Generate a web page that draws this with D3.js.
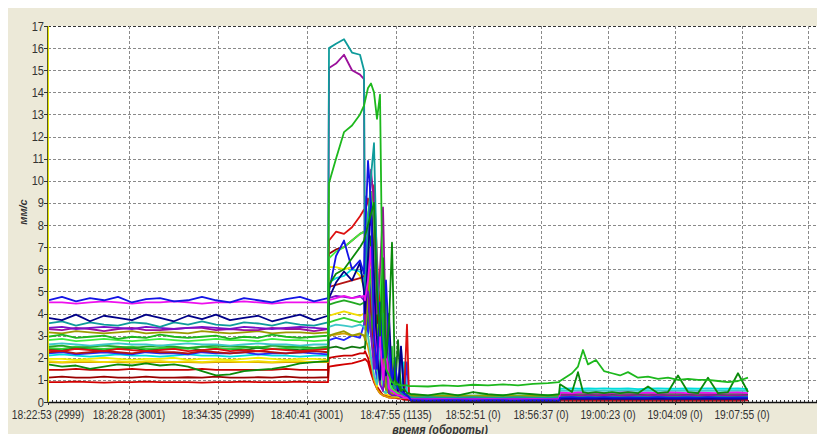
<!DOCTYPE html>
<meta charset="utf-8">
<style>
    body { margin: 0; background: #fff; }
    text { font-family: "Liberation Sans", Arial, sans-serif; fill: #333; }
    .grid line { stroke: #8a8a8a; stroke-dasharray: 3,2; stroke-width: 1; }
    .series path { fill: none; stroke-width: 1.8; stroke-linejoin: round; }
</style>
<svg width="817" height="434"></svg>
<script src="https://d3js.org/d3.v7.min.js"></script>
<script>

    // sample index along the x axis (the axis is by sample, not by clock time)
    var sampleIdx = [0,14,28,42,56,70,84,98,112,126,140,154,168,182,196,210,224,238,252,266,280,
        281,288,296,304,312,316,317,320,323,326,329,332,335,338,341,344,347,350,353,356,359,361,363,
        366,380,395,410,425,440,455,470,485,500,511,
        512,524,530,535,540,548,556,564,572,580,590,600,610,620,630,640,650,660,670,680,690,700];

    var tickIdx = [0, 81, 170, 259, 348, 425, 493, 560, 627, 694];
    var tickLabels = ["18:22:53 (2999)", "18:28:28 (3001)", "18:34:35 (2999)", "18:40:41 (3001)",
        "18:47:55 (1135)", "18:52:51 (0)", "18:56:37 (0)", "19:00:23 (0)", "19:04:09 (0)", "19:07:55 (0)"];
    var yTicks = [0,1,2,3,4,5,6,7,8,9,10,11,12,13,14,15,16,17];

    var teal = [3.55,3.65,3.45,3.6,3.5,3.45,3.6,3.55,3.4,3.6,3.5,3.65,3.5,3.45,3.6,3.55,3.45,3.6,3.5,3.45,3.6,
        16.0,16.2,16.4,15.8,15.7,15.0,4.5,8.0,10.2,11.7,6.0,2.5,4.0,1.5,2.2,0.9,0.6,0.8,0.4,0.3,0.3,0.25,0.22,
        0.2,0.22,0.2,0.2,0.22,0.2,0.2,0.22,0.2,0.2,0.22,
        0.22,0.24,0.22,0.22,0.24,0.22,0.22,0.24,0.22,0.22,0.24,0.22,0.24,0.22,0.22,0.24,0.22,0.22,0.24,0.22,0.22,0.24];
    var purple = [3.3,3.25,3.35,3.3,3.2,3.3,3.35,3.25,3.25,3.3,3.35,3.35,3.25,3.3,3.25,3.25,3.35,3.3,3.3,3.2,3.3,
        15.1,15.3,15.7,15.0,14.8,14.6,3.5,6.5,10.5,9.0,4.0,6.0,8.8,3.0,1.5,0.9,0.6,0.5,0.4,0.3,0.25,0.2,0.16,
        0.15,0.14,0.15,0.16,0.15,0.14,0.15,0.15,0.14,0.15,0.16,
        0.3,0.32,0.3,0.3,0.31,0.3,0.32,0.3,0.3,0.31,0.3,0.3,0.32,0.3,0.3,0.31,0.3,0.32,0.3,0.3,0.31,0.3];
    var green = [2.95,3.05,2.9,2.95,3.0,2.85,2.95,2.9,3.05,2.95,2.9,2.95,3.0,2.85,2.95,2.9,3.05,2.95,2.9,2.95,3.0,
        9.9,11.0,12.2,12.5,13.0,13.4,13.6,14.2,14.4,14.0,12.8,13.9,3.0,1.5,1.2,0.9,0.8,0.8,0.75,0.75,0.75,0.72,0.72,
        0.72,0.7,0.75,0.72,0.78,0.75,0.8,0.75,0.82,0.85,0.9,
        0.95,1.3,1.6,2.35,1.7,1.9,1.4,1.3,1.2,1.35,1.1,1.15,1.05,1.1,1.0,1.05,1.0,1.0,0.95,0.9,0.95,1.1];
    var red = [2.35,2.3,2.4,2.35,2.3,2.4,2.35,2.3,2.35,2.4,2.3,2.35,2.4,2.3,2.35,2.3,2.4,2.35,2.3,2.35,2.4,
        7.3,7.7,7.6,7.9,8.4,8.7,8.6,9.2,8.0,9.8,6.5,4.0,5.5,2.5,1.5,1.0,0.6,0.4,0.3,0.3,3.5,0.3,0.12,
        0.12,0.1,0.12,0.1,0.12,0.1,0.12,0.1,0.12,0.1,0.12,
        0.12,0.1,0.12,0.1,0.12,0.1,0.12,0.1,0.12,0.1,0.12,0.1,0.12,0.1,0.12,0.1,0.12,0.1,0.12,0.1,0.12,0.1];
    var darkRed = [1.1,1.15,1.1,1.1,1.15,1.1,1.1,1.15,1.1,1.1,1.12,1.1,1.15,1.1,1.1,1.12,1.1,1.15,1.1,1.1,1.12,
        6.7,6.9,7.0,7.3,7.6,7.7,7.6,8.3,9.5,7.0,3.5,5.0,2.0,1.2,0.8,0.5,0.4,0.3,0.3,0.2,0.2,0.15,0.1,
        0.1,0.09,0.1,0.1,0.09,0.1,0.1,0.09,0.1,0.1,0.09,
        0.1,0.09,0.1,0.1,0.09,0.1,0.1,0.09,0.1,0.1,0.09,0.1,0.09,0.1,0.1,0.09,0.1,0.1,0.09,0.1,0.1,0.09];
    var blue = [4.6,4.75,4.55,4.7,4.6,4.75,4.5,4.65,4.7,4.55,4.6,4.75,4.6,4.5,4.7,4.6,4.5,4.65,4.75,4.55,4.7,
        5.0,6.6,7.3,6.0,6.4,5.8,7.4,10.9,9.0,3.0,1.5,4.5,2.0,5.5,2.6,1.0,1.8,0.6,0.5,0.4,0.3,0.2,0.08,
        0.08,0.07,0.08,0.08,0.07,0.08,0.08,0.07,0.08,0.08,0.07,
        0.2,0.22,0.2,0.2,0.21,0.2,0.22,0.2,0.2,0.21,0.2,0.2,0.22,0.2,0.2,0.21,0.2,0.22,0.2,0.2,0.21,0.2];
    var navy = [3.8,3.7,3.95,3.65,3.9,3.8,3.7,3.95,3.8,3.65,3.9,3.75,3.95,3.7,3.8,3.9,3.65,3.8,3.95,3.7,3.9,
        4.7,5.4,5.9,5.5,6.3,5.0,4.0,6.5,9.0,5.5,2.0,1.0,3.0,1.2,4.0,0.8,1.6,0.5,2.5,0.4,0.3,0.2,0.05,
        0.05,0.05,0.06,0.05,0.05,0.06,0.05,0.05,0.06,0.05,0.05,
        0.14,0.15,0.14,0.15,0.14,0.15,0.14,0.15,0.14,0.15,0.14,0.15,0.14,0.15,0.14,0.15,0.14,0.15,0.14,0.15,0.14,0.15];
    var magenta = [4.5,4.5,4.45,4.5,4.55,4.5,4.45,4.5,4.5,4.55,4.5,4.45,4.5,4.5,4.55,4.5,4.45,4.5,4.5,4.5,4.5,
        4.6,4.7,4.8,4.7,4.75,4.8,4.6,5.5,7.0,3.5,1.8,3.0,1.0,2.5,0.6,0.5,0.4,0.3,0.3,0.2,0.2,0.15,0.12,
        0.12,0.12,0.13,0.12,0.12,0.13,0.12,0.12,0.13,0.12,0.12,
        0.42,0.4,0.43,0.42,0.4,0.42,0.41,0.4,0.42,0.43,0.4,0.42,0.4,0.43,0.42,0.4,0.42,0.41,0.4,0.42,0.43,0.4];
    var yellow = [1.95,1.95,1.9,1.95,2.0,1.95,1.9,1.95,1.95,2.0,1.9,1.95,1.95,1.9,1.95,2.0,1.95,1.9,1.95,1.95,1.9,
        6.1,6.1,6.0,6.1,5.7,5.2,5.0,4.0,5.5,2.0,3.5,1.0,0.6,1.5,0.4,0.3,0.3,0.25,0.2,0.2,0.2,0.2,0.2,
        0.2,0.19,0.2,0.2,0.19,0.2,0.2,0.19,0.2,0.2,0.19,
        0.2,0.19,0.2,0.2,0.19,0.2,0.2,0.19,0.2,0.2,0.19,0.2,0.19,0.2,0.2,0.19,0.2,0.2,0.19,0.2,0.2,0.19];
    var cyan = [2.1,2.15,2.1,2.05,2.1,2.15,2.1,2.1,2.05,2.1,2.15,2.1,2.1,2.05,2.1,2.15,2.1,2.1,2.05,2.1,2.1,
        5.4,5.6,5.7,6.0,5.9,5.6,5.5,6.5,4.0,2.0,3.0,1.0,4.5,0.6,0.5,1.5,0.4,0.3,0.3,1.8,0.4,0.25,0.2,
        0.2,0.2,0.21,0.2,0.2,0.21,0.2,0.2,0.21,0.2,0.2,
        0.6,0.62,0.6,0.6,0.61,0.6,0.62,0.6,0.6,0.61,0.58,0.6,0.62,0.6,0.6,0.61,0.6,0.62,0.6,0.6,0.61,0.58];
    var lime = [2.8,2.85,2.75,2.8,2.85,2.8,2.75,2.8,2.85,2.8,2.75,2.8,2.85,2.8,2.8,2.75,2.85,2.8,2.8,2.75,2.8,
        6.5,6.8,7.0,7.3,7.6,7.7,7.6,8.5,9.5,8.0,4.0,6.0,2.0,4.5,1.0,0.6,0.5,0.4,0.4,0.35,0.3,0.3,0.3,
        0.3,0.28,0.3,0.3,0.28,0.3,0.3,0.28,0.3,0.3,0.28,
        0.3,0.28,0.3,0.3,0.28,0.3,0.3,0.28,0.3,0.3,0.28,0.3,0.28,0.3,0.3,0.28,0.3,0.3,0.28,0.3,0.3,0.28];
    var darkGreen = [1.7,1.6,1.65,1.5,1.6,1.7,1.65,1.75,1.65,1.7,1.6,1.4,1.2,1.25,1.4,1.45,1.5,1.6,1.75,1.8,1.85,
        5.3,5.8,6.0,6.5,7.0,7.3,7.5,8.0,8.5,9.0,5.0,3.0,6.5,2.0,3.5,7.2,1.0,0.8,0.5,0.6,0.4,0.4,0.35,
        0.35,0.3,0.4,0.3,0.45,0.35,0.3,0.4,0.35,0.3,0.35,
        0.8,0.45,1.35,0.45,0.4,0.45,0.4,0.45,0.4,0.45,0.4,0.7,0.4,0.45,1.2,0.45,0.4,1.1,0.4,0.45,1.3,0.45];
    var olive = [3.15,3.1,3.2,3.15,3.1,3.15,3.2,3.1,3.15,3.15,3.1,3.2,3.15,3.1,3.15,3.2,3.1,3.15,3.15,3.1,3.15,
        3.0,3.1,3.2,3.0,3.1,3.0,2.8,5.0,7.0,4.0,2.0,1.0,2.5,0.6,0.4,0.4,0.3,0.3,0.3,0.3,0.3,0.28,0.28,
        0.28,0.27,0.28,0.28,0.27,0.28,0.28,0.27,0.28,0.28,0.27,
        0.28,0.27,0.28,0.28,0.27,0.28,0.28,0.27,0.28,0.28,0.27,0.28,0.27,0.28,0.28,0.27,0.28,0.28,0.27,0.28,0.28,0.27];
    var brick = [2.25,2.3,2.2,2.25,2.3,2.25,2.2,2.3,2.25,2.25,2.2,2.3,2.25,2.2,2.25,2.3,2.25,2.2,2.25,2.3,2.25,
        5.2,5.3,5.4,5.5,5.6,5.7,5.7,6.0,4.0,2.5,1.5,3.5,0.9,0.6,0.5,2.0,0.4,0.35,0.3,0.3,0.25,0.2,0.1,
        0.1,0.11,0.1,0.1,0.11,0.1,0.1,0.11,0.1,0.1,0.11,
        0.1,0.11,0.1,0.1,0.11,0.1,0.1,0.11,0.1,0.1,0.11,0.1,0.11,0.1,0.1,0.11,0.1,0.1,0.11,0.1,0.1,0.11];
    var violet = [3.35,3.4,3.3,3.35,3.4,3.35,3.3,3.4,3.35,3.3,3.35,3.4,3.35,3.3,3.4,3.35,3.3,3.35,3.4,3.35,3.3,
        4.7,4.8,4.75,4.7,4.8,4.6,4.5,5.0,3.0,1.5,2.5,0.8,0.5,1.8,0.4,0.3,0.3,0.3,0.2,0.2,0.2,0.16,0.15,
        0.15,0.16,0.15,0.15,0.16,0.15,0.15,0.16,0.15,0.15,0.16,
        0.15,0.16,0.15,0.15,0.16,0.15,0.15,0.16,0.15,0.15,0.16,0.15,0.16,0.15,0.15,0.16,0.15,0.15,0.16,0.15,0.15,0.16];
    var green2 = [2.5,2.55,2.45,2.5,2.55,2.5,2.45,2.5,2.55,2.5,2.45,2.5,2.55,2.5,2.5,2.45,2.55,2.5,2.5,2.45,2.5,
        4.4,4.5,4.6,4.5,4.4,4.5,4.3,4.0,3.0,5.0,1.8,1.0,3.0,0.6,0.4,0.35,1.5,0.3,0.3,0.3,0.25,0.25,0.25,
        0.25,0.24,0.25,0.25,0.24,0.25,0.25,0.24,0.25,0.25,0.24,
        0.25,0.24,0.25,0.25,0.24,0.25,0.25,0.24,0.25,0.25,0.24,0.25,0.24,0.25,0.25,0.24,0.25,0.25,0.24,0.25,0.25,0.24];
    var yellow2 = [1.85,1.8,1.85,1.85,1.8,1.85,1.8,1.85,1.85,1.8,1.85,1.8,1.85,1.85,1.8,1.85,1.8,1.85,1.85,1.8,1.85,
        3.9,4.0,4.1,4.0,3.9,4.0,3.8,3.0,2.0,1.2,0.7,2.0,0.5,0.35,0.3,0.3,0.25,0.25,0.2,0.2,0.2,0.18,0.18,
        0.18,0.17,0.18,0.18,0.17,0.18,0.18,0.17,0.18,0.18,0.17,
        0.18,0.17,0.18,0.18,0.17,0.18,0.18,0.17,0.18,0.18,0.17,0.18,0.17,0.18,0.18,0.17,0.18,0.18,0.17,0.18,0.18,0.17];
    var cyan2 = [2.6,2.65,2.6,2.55,2.6,2.65,2.6,2.6,2.55,2.6,2.65,2.6,2.6,2.55,2.6,2.65,2.6,2.6,2.55,2.6,2.6,
        3.4,3.5,3.45,3.4,3.5,3.4,3.3,3.0,2.0,1.2,0.8,2.5,0.5,0.4,1.2,0.3,0.3,0.3,0.25,0.25,0.2,0.2,0.2,
        0.2,0.21,0.2,0.2,0.21,0.2,0.2,0.21,0.2,0.2,0.21,
        0.5,0.52,0.5,0.5,0.51,0.5,0.52,0.5,0.5,0.51,0.5,0.5,0.52,0.5,0.5,0.51,0.5,0.52,0.5,0.5,0.51,0.5];
    var green3 = [2.45,2.4,2.5,2.45,2.4,2.45,2.5,2.4,2.45,2.45,2.4,2.5,2.45,2.4,2.45,2.5,2.4,2.45,2.45,2.4,2.45,
        3.6,3.7,3.8,3.7,3.6,3.7,3.5,4.5,6.0,3.0,1.5,0.8,4.0,0.5,0.4,2.5,0.4,0.3,0.3,0.3,0.3,0.22,0.22,
        0.22,0.21,0.22,0.22,0.21,0.22,0.22,0.21,0.22,0.22,0.21,
        0.22,0.21,0.22,0.22,0.21,0.22,0.22,0.21,0.22,0.22,0.21,0.22,0.21,0.22,0.22,0.21,0.22,0.22,0.21,0.22,0.22,0.21];
    var blue2 = [2.2,2.25,2.15,2.2,2.25,2.2,2.15,2.25,2.2,2.2,2.15,2.25,2.2,2.2,2.25,2.15,2.2,2.2,2.25,2.2,2.15,
        2.8,2.9,2.8,3.0,2.9,3.5,9.3,3.0,6.0,2.0,1.0,2.5,1.0,3.0,0.5,0.4,2.0,0.3,2.5,0.3,1.8,0.3,0.1,
        0.1,0.11,0.1,0.1,0.11,0.1,0.1,0.11,0.1,0.1,0.11,
        0.1,0.11,0.1,0.1,0.11,0.1,0.1,0.11,0.1,0.1,0.11,0.1,0.11,0.1,0.1,0.11,0.1,0.1,0.11,0.1,0.1,0.11];
    var red2 = [1.45,1.45,1.5,1.45,1.45,1.45,1.5,1.45,1.45,1.45,1.45,1.5,1.45,1.45,1.45,1.45,1.45,1.5,1.45,1.45,1.45,
        2.0,2.05,2.1,2.1,2.2,2.2,2.3,2.0,1.5,1.0,0.7,0.5,0.3,0.3,0.25,0.2,0.2,0.2,0.2,0.2,0.2,0.1,0.08,
        0.08,0.08,0.09,0.08,0.08,0.09,0.08,0.08,0.09,0.08,0.08,
        0.09,0.08,0.08,0.09,0.08,0.08,0.09,0.08,0.08,0.09,0.08,0.08,0.09,0.08,0.08,0.09,0.08,0.08,0.09,0.08,0.08,0.09];
    var red3 = [0.9,0.9,0.92,0.9,0.88,0.9,0.9,0.92,0.9,0.9,0.9,0.88,0.9,0.9,0.92,0.9,0.9,0.9,0.92,0.9,0.9,
        1.6,1.65,1.7,1.75,1.85,1.9,1.95,1.8,1.3,0.9,0.6,0.4,0.3,0.25,0.2,0.2,0.2,0.15,0.15,0.1,0.1,0.08,0.06,
        0.06,0.06,0.07,0.06,0.06,0.07,0.06,0.06,0.07,0.06,0.06,
        0.07,0.06,0.06,0.07,0.06,0.06,0.07,0.06,0.06,0.07,0.06,0.06,0.07,0.06,0.06,0.07,0.06,0.06,0.07,0.06,0.06,0.07];
    var darkGreen2 = [2.4,2.35,2.45,2.4,2.35,2.4,2.45,2.35,2.4,2.4,2.45,2.35,2.4,2.4,2.35,2.45,2.4,2.4,2.35,2.4,2.45,
        2.45,2.5,2.4,2.5,2.45,2.5,2.4,5.0,7.5,6.5,3.0,1.5,5.0,0.8,0.5,0.9,0.4,2.8,0.5,0.35,0.3,0.3,0.3,
        0.3,0.29,0.3,0.3,0.29,0.3,0.3,0.29,0.3,0.3,0.29,
        0.35,0.36,0.35,0.35,0.36,0.35,0.35,0.36,0.35,0.35,0.36,0.35,0.36,0.35,0.35,0.36,0.35,0.35,0.36,0.35,0.35,0.36];
    var orange = [1.8,1.78,1.8,1.82,1.8,1.8,1.78,1.8,1.82,1.8,1.8,1.78,1.8,1.82,1.8,1.8,1.78,1.8,1.82,1.8,1.8,
        3.0,3.05,3.1,3.0,3.05,3.0,2.9,2.5,1.8,1.0,0.6,0.4,0.3,0.25,0.2,0.2,0.2,0.2,0.2,0.2,0.2,0.2,0.2,
        0.2,0.21,0.2,0.2,0.21,0.2,0.2,0.21,0.2,0.2,0.21,
        0.2,0.21,0.2,0.2,0.21,0.2,0.2,0.21,0.2,0.2,0.21,0.2,0.21,0.2,0.2,0.21,0.2,0.2,0.21,0.2,0.2,0.21];

    var series = [
        {name: "red3", color: "#d20000", values: red3},
        {name: "red2", color: "#c80000", values: red2},
        {name: "darkRed", color: "#9a0000", values: darkRed},
        {name: "orange", color: "#d8a000", values: orange},
        {name: "yellow2", color: "#f2dc00", values: yellow2},
        {name: "yellow", color: "#eeee00", values: yellow},
        {name: "cyan", color: "#00dcdc", values: cyan},
        {name: "blue2", color: "#2828ff", values: blue2},
        {name: "brick", color: "#b41414", values: brick},
        {name: "darkGreen2", color: "#107810", values: darkGreen2},
        {name: "green3", color: "#33d233", values: green3},
        {name: "green2", color: "#22a822", values: green2},
        {name: "red", color: "#dd1010", values: red},
        {name: "cyan2", color: "#3cc8c8", values: cyan2},
        {name: "lime", color: "#40ee40", values: lime},
        {name: "olive", color: "#9b9b00", values: olive},
        {name: "purple", color: "#9b109b", values: purple},
        {name: "violet", color: "#7a10c8", values: violet},
        {name: "teal", color: "#0e9b9b", values: teal},
        {name: "navy", color: "#000088", values: navy},
        {name: "magenta", color: "#ee10ee", values: magenta},
        {name: "blue", color: "#1414e6", values: blue},
        {name: "darkGreen", color: "#0a8a0a", values: darkGreen},
        {name: "green", color: "#1db81d", values: green}
    ];

    var svg = d3.select("svg"),
        width = +svg.attr("width"),
        height = +svg.attr("height");

    var plotLeft = 48, plotTop = 26, plotBottom = 402;

    var x = d3.scaleLinear().domain([0, 760]).range([plotLeft, 808]);
    var y = d3.scaleLinear().domain([0, 17]).range([plotBottom, plotTop]);

    // panel background
    svg.append("rect").attr("x", 8).attr("y", 8).attr("width", width - 8).attr("height", height - 8)
        .attr("fill", "#ece9d8");
    svg.append("rect").attr("x", plotLeft).attr("y", plotTop).attr("width", width - plotLeft).attr("height", plotBottom - plotTop)
        .attr("fill", "#fff");

    // grid
    var grid = svg.append("g").attr("class", "grid");
    grid.selectAll(".h").data(yTicks.slice(1)).enter().append("line")
        .attr("x1", plotLeft).attr("x2", width)
        .attr("y1", function (d) { return Math.round(y(d)) + 0.5; })
        .attr("y2", function (d) { return Math.round(y(d)) + 0.5; })
        .style("stroke", function (d) { return d == 17 ? "#333" : null; });
    grid.selectAll(".v").data(tickIdx.slice(1).concat([760])).enter().append("line")
        .attr("x1", function (d) { return Math.round(x(d)) + 0.5; })
        .attr("x2", function (d) { return Math.round(x(d)) + 0.5; })
        .attr("y1", plotTop).attr("y2", plotBottom);

    // lines
    var line = d3.line()
        .x(function (d) { return x(d[0]); })
        .y(function (d) { return y(d[1]); });

    svg.append("g").attr("class", "series")
        .selectAll("path")
        .data(series)
        .enter()
        .append("path")
        .attr("stroke", function (d) { return d.color; })
        .attr("d", function (d) {
            return line(d.values.map(function (v, i) { return [sampleIdx[i], v]; }));
        });

    // x axis line with little ticks
    svg.append("line").attr("x1", plotLeft).attr("x2", width).attr("y1", plotBottom + 0.5).attr("y2", plotBottom + 0.5)
        .attr("stroke", "#111").attr("stroke-width", 1.5);
    svg.append("line").attr("x1", plotLeft).attr("x2", width).attr("y1", plotBottom - 1).attr("y2", plotBottom - 1)
        .attr("stroke", "#333").attr("stroke-width", 2).attr("stroke-dasharray", "1,3");
    svg.selectAll(".xt").data(tickIdx).enter().append("line")
        .attr("x1", function (d) { return Math.round(x(d)) + 0.5; })
        .attr("x2", function (d) { return Math.round(x(d)) + 0.5; })
        .attr("y1", plotBottom).attr("y2", plotBottom + 3)
        .attr("stroke", "#333");

    // y axis line (yellowish)
    svg.append("line").attr("x1", plotLeft - 0.5).attr("x2", plotLeft - 0.5).attr("y1", plotTop).attr("y2", plotBottom)
        .attr("stroke", "#5a5a20").attr("stroke-width", 1);
    svg.append("line").attr("x1", plotLeft + 0.5).attr("x2", plotLeft + 0.5).attr("y1", plotTop).attr("y2", plotBottom)
        .attr("stroke", "#e6e600").attr("stroke-width", 1);
    svg.selectAll(".yt").data(yTicks).enter().append("line")
        .attr("x1", plotLeft - 4).attr("x2", plotLeft)
        .attr("y1", function (d) { return Math.round(y(d)) + 0.5; })
        .attr("y2", function (d) { return Math.round(y(d)) + 0.5; })
        .attr("stroke", "#333");

    // tick labels (narrow face: squeeze horizontally)
    svg.selectAll(".yl").data(yTicks).enter().append("text")
        .attr("transform", function (d) { return "translate(" + (plotLeft - 4) + "," + (y(d) + 4.5) + ") scale(0.85,1)"; })
        .attr("text-anchor", "end").style("font-size", "13px")
        .text(function (d) { return d; });

    svg.selectAll(".xl").data(tickIdx).enter().append("text")
        .attr("transform", function (d) { return "translate(" + x(d) + ",418.5) scale(0.82,1)"; })
        .attr("text-anchor", "middle").style("font-size", "12.5px")
        .text(function (d, i) { return tickLabels[i]; });

    // axis titles
    svg.append("text").attr("transform", "translate(440,434) scale(0.9,1)")
        .attr("text-anchor", "middle")
        .style("font-size", "12px").style("font-style", "italic").style("font-weight", "bold")
        .text("время (обороты)");
    svg.append("text")
        .attr("transform", "translate(27,212) rotate(-90)")
        .attr("text-anchor", "middle")
        .style("font-size", "11px").style("font-style", "italic").style("font-weight", "bold")
        .text("мм/с");

</script>
